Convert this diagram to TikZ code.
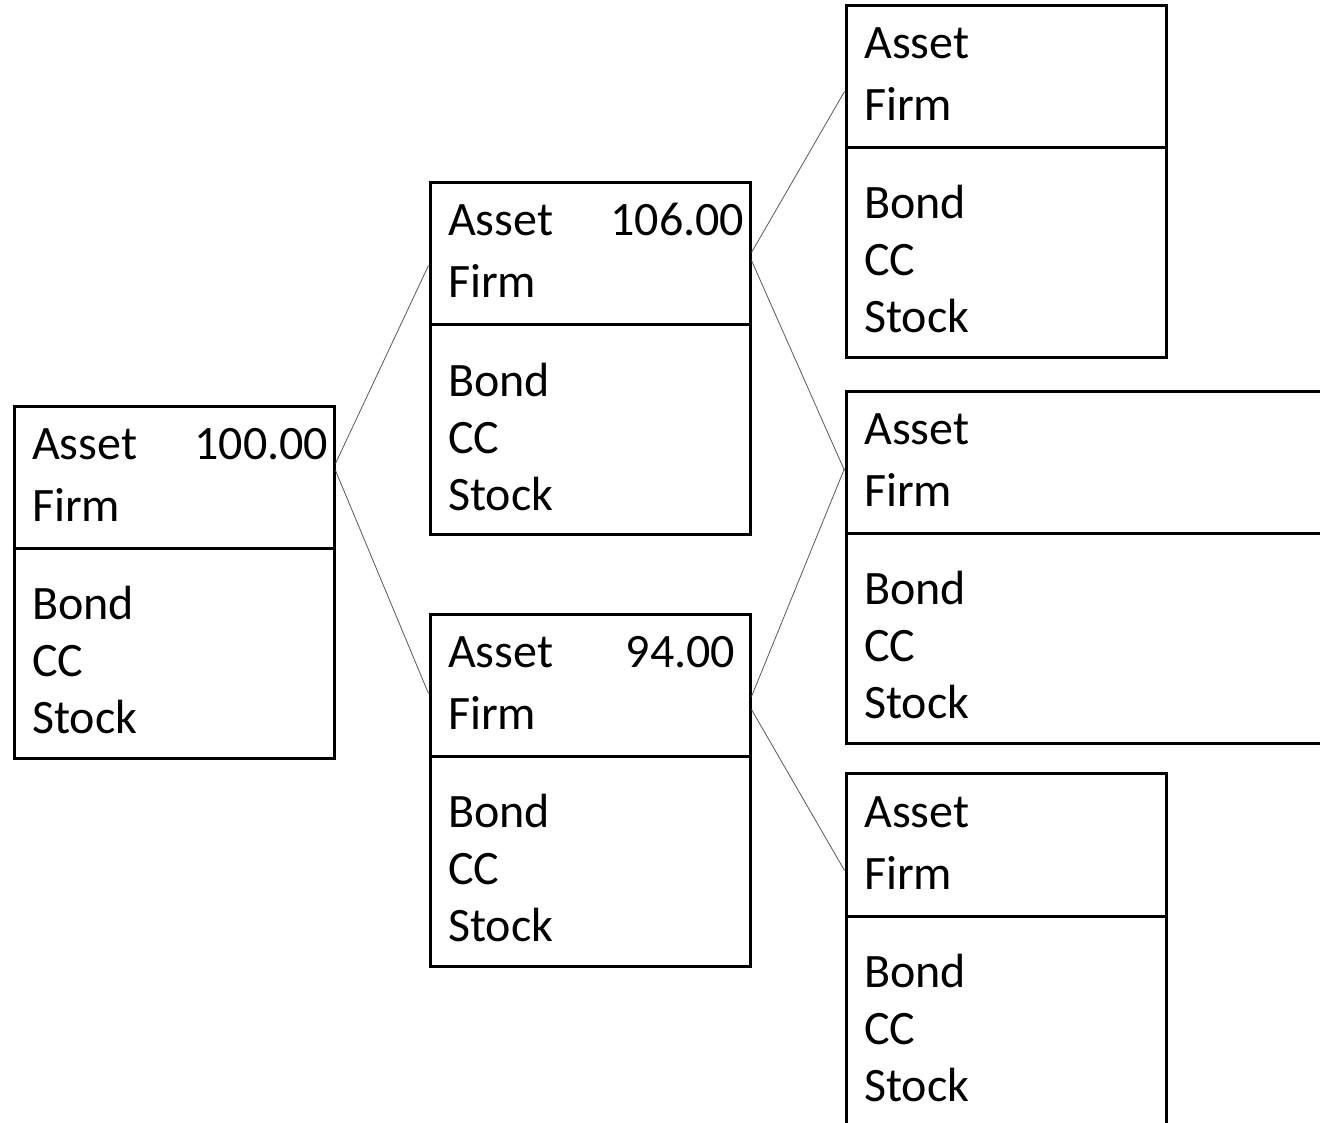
\documentclass[tikz,border=0pt]{standalone}
\usepackage{fontspec}
\setmainfont{Carlito}
\begin{document}
\begin{tikzpicture}[x=1pt,y=-1pt,
  box/.style={draw, line width=3pt, inner sep=0pt, minimum width=320pt, minimum height=352pt},
  lbl/.style={anchor=base west, inner sep=0pt, font=\fontsize{48}{56}\selectfont},
  num/.style={anchor=base east, inner sep=0pt, font=\fontsize{48}{56}\selectfont},
  divider/.style={line width=3pt},
  link/.style={line width=0.8pt, draw=black!65}]
\useasboundingbox (0,0) rectangle (1320,1123);
\clip (0,0) rectangle (1320,1123);
% boxes
\node[box] (A) at (174,582) {};
\node[box] (B) at (590,358.5) {};
\node[box] (C) at (590,790) {};
\node[box] (D) at (1006,181.5) {};
\node[box, minimum width=480pt] (E) at (1086,567) {};
\node[box] (F) at (1006,949.5) {};
% dividers and texts
\foreach \b in {A,B,C,D,E,F}{
  \draw[divider] ([yshift=-144pt]\b.north west) -- ([yshift=-144pt]\b.north east);
  \node[lbl] (\b-asset) at ([xshift=19.5pt,yshift=-55pt]\b.north west) {Asset};
  \node[lbl] (\b-firm)  at ([xshift=19.5pt,yshift=-117pt]\b.north west) {Firm};
  \node[lbl] (\b-bond)  at ([xshift=19.5pt,yshift=-215pt]\b.north west) {Bond};
  \node[lbl] (\b-cc)    at ([xshift=19.5pt,yshift=-272pt]\b.north west) {CC};
  \node[lbl] (\b-stock) at ([xshift=19.5pt,yshift=-329pt]\b.north west) {Stock};
}
\node[num] (A-val) at ([xshift=-7pt,yshift=-55pt]A.north east) {100.00};
\node[num] (B-val) at ([xshift=-7pt,yshift=-55pt]B.north east) {106.00};
\node[num] (C-val) at ([xshift=-16pt,yshift=-55pt]C.north east) {94.00};
% connectors
\draw[link] ([yshift=-59pt]A.north east) -- ([yshift=-84.5pt]B.north west);
\draw[link] ([yshift=-66pt]A.north east) -- ([yshift=-81pt]C.north west);
\draw[link] ([yshift=-71.5pt]B.north east) -- ([yshift=-87.5pt]D.north west);
\draw[link] ([yshift=-79.5pt]B.north east) -- ([yshift=-81pt]E.north west);
\draw[link] ([yshift=-84pt]C.north east) -- ([yshift=-79pt]E.north west);
\draw[link] ([yshift=-97pt]C.north east) -- ([yshift=-98.5pt]F.north west);
\end{tikzpicture}
\end{document}
